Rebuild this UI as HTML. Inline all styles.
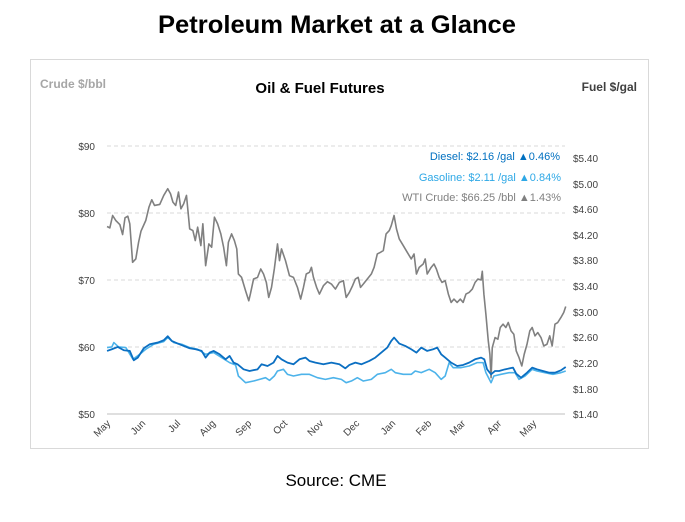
<!DOCTYPE html>
<html><head><style>
body{margin:0;background:#fff;width:685px;height:517px;overflow:hidden;font-family:"Liberation Sans",sans-serif}
</style></head><body>
<svg width="685" height="517" xmlns="http://www.w3.org/2000/svg" font-family="Liberation Sans, sans-serif">
<text x="337" y="33" text-anchor="middle" font-size="25" font-weight="bold" fill="#000" textLength="358" lengthAdjust="spacingAndGlyphs">Petroleum Market at a Glance</text>
<rect x="30.5" y="59.5" width="618" height="389" fill="none" stroke="#d9d9d9"/>
<text x="40" y="88" font-size="12" font-weight="bold" fill="#a6a6a6">Crude $/bbl</text>
<text x="320" y="93" text-anchor="middle" font-size="15" font-weight="bold" fill="#000">Oil &amp; Fuel Futures</text>
<text x="637" y="91" text-anchor="end" font-size="12" font-weight="bold" fill="#404040">Fuel $/gal</text>
<g stroke="#d9d9d9" stroke-dasharray="4,3"><line x1="107" x2="565" y1="146" y2="146"/><line x1="107" x2="565" y1="213" y2="213"/><line x1="107" x2="565" y1="280" y2="280"/><line x1="107" x2="565" y1="347" y2="347"/></g>
<line x1="107" x2="565" y1="414" y2="414" stroke="#bfbfbf"/>
<g font-size="10" fill="#404040" text-anchor="end"><text x="95" y="150">$90</text><text x="95" y="217">$80</text><text x="95" y="284">$70</text><text x="95" y="351">$60</text><text x="95" y="418">$50</text></g>
<g font-size="10" fill="#404040"><text x="573" y="162">$5.40</text><text x="573" y="188">$5.00</text><text x="573" y="213">$4.60</text><text x="573" y="239">$4.20</text><text x="573" y="264">$3.80</text><text x="573" y="290">$3.40</text><text x="573" y="316">$3.00</text><text x="573" y="341">$2.60</text><text x="573" y="367">$2.20</text><text x="573" y="393">$1.80</text><text x="573" y="418">$1.40</text></g>
<g font-size="10" fill="#404040" text-anchor="end">
<text transform="translate(111,424) rotate(-45)">May</text><text transform="translate(146,424) rotate(-45)">Jun</text><text transform="translate(181,424) rotate(-45)">Jul</text><text transform="translate(216,424) rotate(-45)">Aug</text><text transform="translate(252,424) rotate(-45)">Sep</text><text transform="translate(288,424) rotate(-45)">Oct</text><text transform="translate(324,424) rotate(-45)">Nov</text><text transform="translate(360,424) rotate(-45)">Dec</text><text transform="translate(396,424) rotate(-45)">Jan</text><text transform="translate(432,424) rotate(-45)">Feb</text><text transform="translate(466,424) rotate(-45)">Mar</text><text transform="translate(502,424) rotate(-45)">Apr</text><text transform="translate(537,424) rotate(-45)">May</text>
</g>
<g font-size="11" text-anchor="end">
<text x="560" y="160" fill="#0070c0">Diesel:  $2.16 /gal  ▲0.46%</text>
<text x="561" y="181" fill="#2ea8e6">Gasoline:  $2.11 /gal  ▲0.84%</text>
<text x="561" y="201" fill="#808080">WTI Crude: $66.25 /bbl  ▲1.43%</text>
</g>
<g transform="translate(30,60) scale(0.3992,0.3344)" fill="none" stroke-linejoin="round">
<polyline vector-effect="non-scaling-stroke" stroke="#808080" stroke-width="1.6" points="193,498 200,502 207,465 215,480 225,492 232,522 238,472 245,467 250,490 257,605 265,595 272,545 278,512 290,480 298,440 305,418 312,435 325,432 335,405 345,385 352,400 358,425 365,435 372,395 378,445 385,430 392,405 400,505 408,510 414,540 420,500 428,555 433,490 440,615 448,550 455,560 462,470 470,490 478,520 485,560 492,615 497,545 505,520 512,540 518,565 522,640 530,650 540,690 548,720 552,700 560,655 570,650 578,625 585,640 592,665 598,710 605,680 612,625 620,550 625,600 630,565 640,600 650,645 660,650 670,680 678,715 685,680 692,640 700,635 705,620 710,650 718,680 725,700 735,675 745,663 755,670 765,685 775,665 785,660 792,710 800,695 808,675 815,655 822,650 828,680 835,670 845,655 855,640 862,620 870,580 878,575 885,570 892,520 900,510 905,495 912,465 918,505 925,535 935,555 945,575 955,595 962,580 968,640 975,620 985,610 990,595 995,640 1005,620 1012,610 1018,625 1025,650 1032,665 1040,660 1048,700 1055,725 1062,715 1070,725 1078,715 1085,725 1092,700 1100,695 1108,685 1115,665 1122,655 1130,658 1133,632 1137,700 1142,760 1148,840 1152,880 1155,950 1158,860 1165,830 1172,835 1178,800 1185,790 1192,800 1198,785 1205,810 1212,820 1218,870 1225,890 1232,915 1238,880 1245,850 1252,810 1258,800 1265,825 1272,815 1280,830 1287,855 1295,850 1302,825 1308,855 1315,790 1322,785 1330,770 1337,755 1342,737"/>
<polyline vector-effect="non-scaling-stroke" stroke="#4db3ea" stroke-width="1.6" points="193,860 205,858 210,845 222,858 240,860 258,895 275,880 290,865 310,850 335,842 345,830 360,845 380,850 400,860 420,865 440,880 460,875 480,890 500,905 515,912 522,945 540,965 560,960 575,955 590,950 600,958 612,945 620,930 635,925 645,940 660,945 680,940 700,940 720,950 740,955 760,950 780,955 792,965 805,960 820,950 835,960 855,955 870,940 890,935 905,925 915,935 935,940 955,940 965,930 980,935 1000,925 1015,935 1030,955 1040,945 1050,905 1060,920 1080,920 1100,915 1120,905 1135,905 1142,935 1155,965 1162,945 1180,940 1200,935 1215,935 1225,955 1240,945 1258,925 1270,930 1290,935 1310,940 1330,935 1342,930"/>
<polyline vector-effect="non-scaling-stroke" stroke="#0b6fc2" stroke-width="1.8" points="193,870 205,865 220,858 235,868 250,870 260,898 270,890 285,862 300,850 320,845 335,838 345,826 355,840 370,848 385,855 400,862 415,865 430,870 440,890 450,875 460,870 475,880 490,895 500,885 510,905 520,910 535,925 550,930 570,925 580,910 595,915 610,905 620,885 630,895 645,905 660,910 675,895 690,890 700,900 715,905 735,910 755,905 775,910 790,922 800,912 815,905 830,910 850,900 865,890 880,875 895,860 905,840 912,830 925,848 940,855 955,865 968,875 980,860 995,870 1010,865 1020,860 1030,880 1040,890 1055,905 1070,915 1085,912 1100,905 1115,895 1130,890 1138,895 1145,925 1155,940 1165,930 1175,930 1190,925 1210,920 1218,938 1230,950 1245,935 1258,920 1270,925 1285,930 1300,935 1315,935 1330,928 1342,918"/>
</g>
<text x="336" y="486" text-anchor="middle" font-size="17" fill="#000">Source: CME</text>
</svg>
</body></html>
